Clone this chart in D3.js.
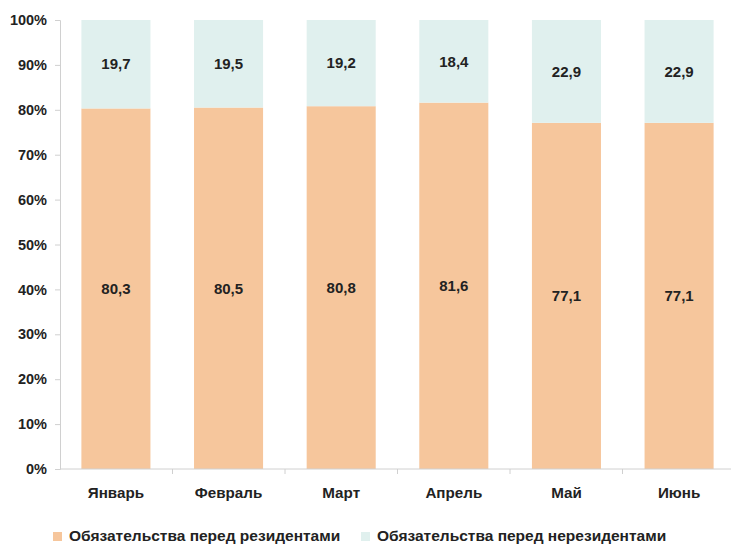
<!DOCTYPE html>
<html><head><meta charset="utf-8">
<script src="https://cdn.jsdelivr.net/npm/d3@7"></script>
<style>body{margin:0;background:#fff}svg{display:block}text{font-family:"Liberation Sans",Arial,sans-serif;font-weight:bold;fill:#222}</style>
</head><body>
<svg id="c" width="731" height="544"></svg>
<script>
const categories = ["Январь","Февраль","Март","Апрель","Май","Июнь"];
const residents = [80.3, 80.5, 80.8, 81.6, 77.1, 77.1];
const nonResidents = [19.7, 19.5, 19.2, 18.4, 22.9, 22.9];
const seriesNames = ["Обязательства перед резидентами","Обязательства перед нерезидентами"];
const yTicks = [0,10,20,30,40,50,60,70,80,90,100];

(function(){
const colors = ["#F6C69C","#E0F0EE"];
const svg = d3.select("#c");
const pL = 60, pR = 735, pT = 20, pB = 469;
const x = d3.scaleBand().domain(categories).range([pL, pR]).paddingInner(0.387).paddingOuter(0.19);
const y = d3.scaleLinear().domain([0,100]).range([pB, pT]);

const data = categories.map((c,i)=>({c, r: residents[i], n: nonResidents[i]}));
const stack = d3.stack().keys(["r","n"])(data);

const g = svg.append("g");
stack.forEach((s,si)=>{
  g.selectAll(null).data(s).enter().append("rect")
    .attr("x", d=>x(d.data.c)).attr("width", x.bandwidth())
    .attr("y", d=>y(Math.min(d[1],100))).attr("height", d=>y(d[0])-y(Math.min(d[1],100)))
    .attr("fill", colors[si]);
  g.selectAll(null).data(s).enter().append("text")
    .attr("x", d=>x(d.data.c)+x.bandwidth()/2)
    .attr("y", d=>y((d[0]+d[1])/2)).attr("dy","0.35em")
    .attr("text-anchor","middle").attr("font-size",15)
    .text(d=>d3.format(".1f")(d[1]-d[0]).replace(".",","));
});

const yAxis = d3.axisLeft(y).tickValues(yTicks).tickSize(5).tickPadding(8).tickFormat(d=>d+"%");
const ya = svg.append("g").attr("transform",`translate(${pL},0)`).call(yAxis);
ya.select(".domain").attr("stroke","#d0d0d0");
ya.selectAll(".tick line").attr("stroke","#d0d0d0");
ya.selectAll(".tick text").attr("font-size",14.5).attr("fill","#222").style("font-family",'"Liberation Sans",Arial,sans-serif').style("font-weight","bold");

const xs = d3.scaleLinear().domain([0,6]).range([pL,pR]);
const xa = svg.append("g").attr("transform",`translate(0,${pB})`);
xa.append("line").attr("x1",pL).attr("x2",731).attr("stroke","#d0d0d0");
xa.selectAll(null).data(d3.range(1,6)).enter().append("line")
  .attr("x1",d=>xs(d)).attr("x2",d=>xs(d)).attr("y1",0).attr("y2",5).attr("stroke","#d0d0d0");
xa.selectAll(null).data(categories).enter().append("text")
  .attr("x",d=>x(d)+x.bandwidth()/2).attr("y",29).attr("text-anchor","middle").attr("font-size",15.2).text(d=>d);

const lg = svg.append("g");
const lx = [53, 361];
seriesNames.forEach((n,i)=>{
  lg.append("rect").attr("x",lx[i]).attr("y",532).attr("width",9).attr("height",9).attr("fill",colors[i]);
  lg.append("text").attr("x",lx[i]+16).attr("y",541).attr("font-size",15.5).text(n);
});
})();
</script>
</body></html>
